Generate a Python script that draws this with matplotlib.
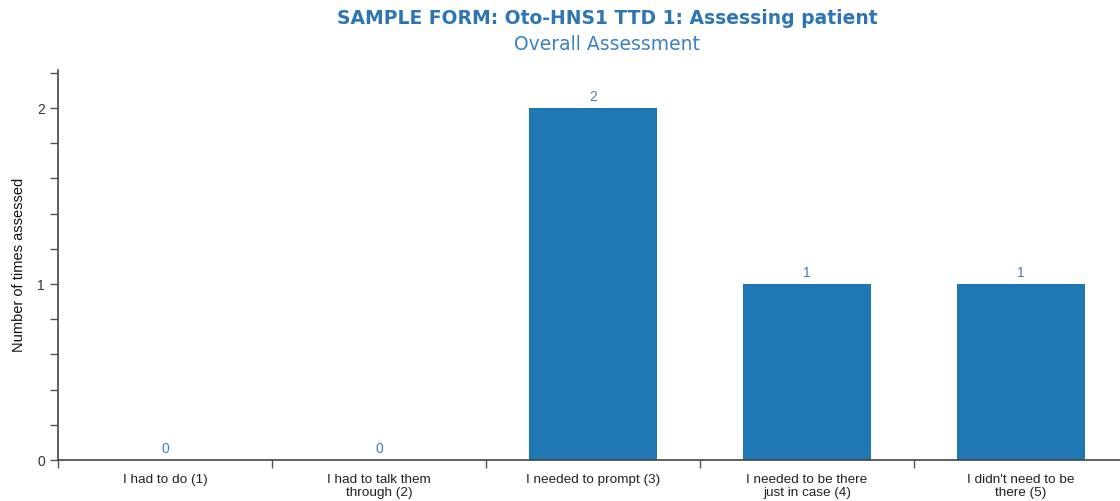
import matplotlib.pyplot as plt
import numpy as np

# assessment counts per category
categories = ["I had to do (1)", "I had to talk them\nthrough (2)", "I needed to prompt (3)",
              "I needed to be there\njust in case (4)", "I didn't need to be\nthere (5)"]
counts = [0, 0, 2, 1, 1]

title = "SAMPLE FORM: Oto-HNS1 TTD 1: Assessing patient"
subtitle = "Overall Assessment"

plt.rcParams["font.family"] = ["Liberation Sans", "DejaVu Sans"]

fig = plt.figure(figsize=(11.2, 5.01), dpi=100)
ax = fig.add_axes([58 / 1120, 41 / 501, 1070 / 1120, 390 / 501])

x = np.arange(len(categories))
bars = ax.bar(x, counts, width=0.6, color="#1f77b4")

for xi, v in zip(x, counts):
    ax.text(xi, v + 0.025, str(v), ha="center", va="bottom", fontsize=10, color="#3f7fc0")

ax.set_xlim(-0.5, len(categories) - 0.5)
ax.set_ylim(0, 2.216)

# y axis: labels on integers, small ticks every 0.2
ax.set_yticks([0, 1, 2])
ax.set_yticks(np.arange(0, 2.21, 0.2), minor=True)
ax.tick_params(axis="y", which="both", length=6, width=1, color="#555555", labelsize=10, labelcolor="#333333")

# x axis: tick marks between categories, labels centered
ax.set_xticks(x)
ax.set_xticklabels(categories, fontsize=9.7, color="#222222", linespacing=1.1)
ax.set_xticks(np.arange(-0.5, len(categories), 1.0), minor=True)
ax.tick_params(axis="x", which="major", length=0, pad=10)
ax.tick_params(axis="x", which="minor", length=6, width=1, color="#555555")

for side in ["top", "right"]:
    ax.spines[side].set_visible(False)
for side in ["left", "bottom"]:
    ax.spines[side].set_color("#444444")
    ax.spines[side].set_linewidth(1.2)

ax.set_ylabel("Number of times assessed", fontsize=10.5, color="#111111")
ax.yaxis.set_label_coords(-0.03, 0.5)

fig.text(607 / 1120, 1 - 18 / 501, title, ha="center", va="center", fontsize=13.5,
         fontweight="bold", color="#2e75b6", family="DejaVu Sans")
fig.text(607 / 1120, 1 - 44 / 501, subtitle, ha="center", va="center", fontsize=13.5,
         color="#3b82c4", family="DejaVu Sans")

fig.savefig("out.png", dpi=100)
